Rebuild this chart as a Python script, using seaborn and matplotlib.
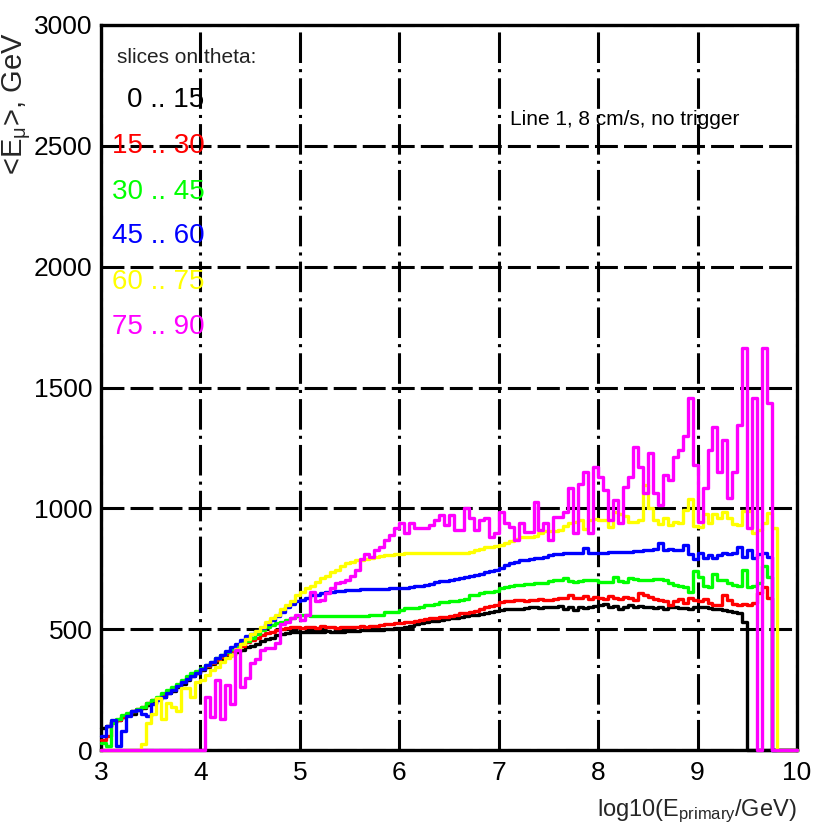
import numpy as np
import pandas as pd
import seaborn as sns
import matplotlib
matplotlib.use("Agg")
import matplotlib.pyplot as plt
from matplotlib.ticker import MultipleLocator

# bins of log10(E_primary/GeV): 3.0 .. 10.0, width 0.05
edges = np.round(np.linspace(3.0, 10.0, 141), 3)
centers = np.round((edges[:-1] + edges[1:]) / 2, 4)

slice_labels = ["0 .. 15", "15 .. 30", "30 .. 45", "45 .. 60", "60 .. 75", "75 .. 90"]
slice_colors = ["#000000", "#ff0000", "#00ff00", "#0000ff", "#ffff00", "#ff00ff"]

# <E_mu> per bin, GeV (one row = 0.5 in log10 E)
e_0_15 = [
    90, 100, 115, 125, 135, 145, 150, 165, 175, 185,
    195, 210, 220, 235, 245, 260, 275, 290, 305, 320,
    330, 345, 355, 365, 375, 385, 395, 405, 415, 425,
    430, 440, 450, 460, 465, 475, 480, 485, 488, 490,
    488, 490, 490, 488, 490, 492, 490, 488, 490, 492,
    492, 494, 495, 495, 496, 497, 498, 500, 502, 505,
    505, 510, 515, 520, 525, 530, 532, 535, 538, 542,
    545, 548, 552, 555, 558, 560, 563, 568, 572, 575,
    578, 582, 585, 585, 583, 588, 590, 592, 588, 590,
    593, 590, 595, 585, 590, 580, 592, 588, 590, 595,
    600, 605, 590, 595, 585, 592, 598, 590, 595, 590,
    592, 588, 590, 585, 592, 590, 588, 586, 585, 590,
    592, 590, 588, 585, 582, 578, 575, 572, 565, 530,
    0, 0, 0, 0, 0, 0, 0, 0, 0, 0,
]
e_15_30 = [
    40, 60, 115, 125, 135, 145, 160, 170, 180, 195,
    205, 215, 228, 240, 255, 270, 285, 300, 310, 322,
    335, 348, 360, 372, 385, 398, 410, 420, 432, 445,
    455, 465, 475, 485, 490, 495, 500, 505, 508, 510,
    505, 508, 510, 505, 512, 508, 510, 506, 510, 508,
    510, 508, 512, 510, 514, 515, 518, 520, 522, 524,
    526, 528, 530, 534, 540, 542, 545, 548, 550, 552,
    555, 560, 565, 568, 570, 575, 585, 592, 595, 600,
    612, 615, 618, 620, 622, 618, 620, 622, 625, 620,
    622, 625, 628, 630, 640, 628, 630, 638, 625, 632,
    628, 625, 638, 630, 625, 632, 628, 622, 650, 640,
    635, 625, 622, 615, 600, 618, 625, 610, 628, 622,
    618, 625, 610, 600, 598, 640, 620, 605, 600, 605,
    602, 610, 650, 675, 630, 0, 0, 0, 0, 0,
]
e_30_45 = [
    30, 15, 110, 130, 145, 152, 160, 170, 180, 195,
    205, 220, 235, 250, 262, 275, 290, 305, 318, 328,
    338, 350, 365, 380, 393, 405, 418, 430, 441, 452,
    465, 480, 495, 510, 518, 524, 530, 538, 548, 555,
    558, 558, 556, 555, 555, 556, 555, 555, 556, 555,
    555, 556, 555, 556, 558, 558, 560, 572, 572, 572,
    580, 587, 587, 587, 590, 598, 600, 605, 614, 614,
    616, 618, 620, 625, 641, 641, 650, 655, 655, 658,
    670, 675, 680, 683, 683, 685, 688, 690, 690, 692,
    698, 703, 705, 710, 700, 697, 700, 703, 703, 703,
    697, 697, 697, 715, 700, 697, 710, 708, 705, 705,
    705, 708, 706, 705, 690, 683, 678, 675, 655, 740,
    717, 680, 675, 730, 705, 703, 690, 683, 680, 745,
    676, 678, 690, 760, 717, 0, 0, 0, 0, 0,
]
e_45_60 = [
    60, 100, 125, 15, 80, 140, 160, 165, 150, 140,
    190, 205, 220, 235, 250, 265, 280, 295, 305, 318,
    335, 350, 365, 380, 395, 410, 425, 440, 455, 470,
    480, 492, 505, 520, 540, 555, 572, 590, 605, 615,
    620, 630, 640, 642, 650, 655, 655, 658, 660, 662,
    662, 664, 665, 666, 668, 668, 668, 668, 670, 670,
    670, 672, 675, 678, 680, 682, 688, 695, 698, 700,
    705, 708, 712, 716, 720, 725, 730, 736, 740, 745,
    755, 765, 772, 780, 786, 786, 790, 793, 795, 800,
    808, 810, 812, 814, 814, 814, 814, 835, 814, 814,
    814, 815, 818, 820, 821, 821, 821, 822, 825, 828,
    828, 830, 855, 828, 830, 826, 828, 850, 810, 790,
    814, 793, 807, 795, 808, 815, 810, 814, 840, 800,
    828, 793, 812, 814, 800, 0, 0, 0, 0, 0,
]
e_60_75 = [
    0, 0, 0, 0, 0, 0, 0, 0, 25, 110,
    150, 215, 130, 193, 180, 160, 256, 256, 220, 283,
    290, 310, 330, 345, 365, 380, 395, 420, 440, 460,
    478, 492, 510, 530, 545, 560, 585, 600, 615, 640,
    655, 670, 680, 695, 710, 720, 735, 745, 760, 772,
    780, 786, 786, 790, 795, 800, 802, 805, 807, 810,
    812, 814, 814, 814, 814, 814, 814, 814, 814, 814,
    814, 814, 814, 815, 820, 828, 830, 838, 841, 845,
    848, 855, 865, 875, 883, 880, 882, 885, 900, 905,
    908, 905, 912, 925, 940, 945, 952, 915, 950, 955,
    952, 950, 924, 985, 975, 970, 945, 945, 950, 1095,
    1000, 952, 935, 960, 930, 945, 938, 993, 1040, 925,
    924, 975, 940, 975, 960, 985, 960, 935, 931, 990,
    990, 900, 910, 940, 980, 917, 0, 0, 0, 0,
]
e_75_90 = [
    0, 0, 0, 0, 0, 0, 0, 0, 0, 0,
    0, 0, 0, 0, 0, 0, 0, 0, 0, 0,
    0, 220, 135, 290, 130, 270, 190, 414, 260, 300,
    360, 375, 414, 421, 421, 441, 520, 530, 545, 560,
    540, 560, 655, 617, 620, 648, 670, 690, 697, 705,
    720, 745, 790, 810, 800, 828, 841, 869, 890, 917,
    938, 896, 938, 917, 917, 917, 930, 950, 972, 930,
    972, 910, 910, 1000, 958, 910, 952, 960, 883, 900,
    986, 938, 924, 869, 938, 903, 903, 1028, 910, 938,
    869, 966, 966, 986, 1083, 900, 1100, 1152, 897, 1172,
    1131, 1076, 952, 1034, 938, 1090, 1131, 1255, 1172, 1062,
    1228, 1062, 1014, 1138, 1117, 1214, 1241, 1300, 1456, 1179,
    945, 1083, 1241, 1338, 1150, 1283, 1043, 1152, 1345, 1663,
    917, 1456, 0, 1663, 1435, 0, 0, 0, 0, 0,
]
series = [e_0_15, e_15_30, e_30_45, e_45_60, e_60_75, e_75_90]

df = pd.concat(
    [pd.DataFrame({"logE": centers, "E": vals, "theta": lab})
     for lab, vals in zip(slice_labels, series)],
    ignore_index=True,
)

sns.set_style("white")
plt.rcParams["font.family"] = ["Liberation Sans Narrow", "Liberation Sans", "DejaVu Sans"]
plt.rcParams["mathtext.fontset"] = "custom"
plt.rcParams["mathtext.rm"] = "Liberation Sans"
plt.rcParams["mathtext.it"] = "Liberation Sans"

fig = plt.figure(figsize=(8.18, 8.4), dpi=100)
ax = fig.add_axes([101 / 818, 90 / 840, 696 / 818, 725 / 840])

for lab, col in zip(slice_labels, slice_colors):
    sns.histplot(data=df[df["theta"] == lab], x="logE", weights="E", bins=list(edges),
                 element="step", fill=False, color=col, linewidth=2.4,
                 zorder=3, clip_on=False, ax=ax)

ax.set_xlim(3, 10)
ax.set_ylim(0, 3000)
ax.xaxis.set_major_locator(MultipleLocator(1))
ax.xaxis.set_minor_locator(MultipleLocator(0.2))
ax.yaxis.set_major_locator(MultipleLocator(500))
ax.yaxis.set_minor_locator(MultipleLocator(100))

ax.set_axisbelow(True)
ax.grid(axis="x", which="major", color="black", linewidth=2.2, linestyle=(0, (10, 2, 1, 2)))
ax.grid(axis="y", which="major", color="black", linewidth=2.2, linestyle=(0, (7.5, 2)))

ax.tick_params(which="both", direction="in", top=False, right=False,
               width=1.8, color="black", labelsize=19, labelcolor="black")
ax.tick_params(axis="x", which="major", length=16, pad=8)
ax.tick_params(axis="x", which="minor", length=9)
ax.tick_params(axis="y", which="major", length=12, pad=6)
ax.tick_params(axis="y", which="minor", length=6)
for sp in ax.spines.values():
    sp.set_linewidth(2.4)
    sp.set_color("black")
    sp.set_visible(True)

ax.set_xlabel(r"log10(E$_{\mathrm{primary}}$/GeV)", fontsize=17, loc="right")
ax.xaxis.set_label_coords(1.0, -0.066)
ax.set_ylabel(r"<E$_{\mu}$>, GeV", fontsize=21, loc="top")
ax.yaxis.set_label_coords(-0.097, 0.99)

ax.text(0.023, 0.9545, "slices on theta:", transform=ax.transAxes,
        fontsize=15, ha="left", va="center", color="#222222")
legend_y = [0.8966, 0.8331, 0.7697, 0.7090, 0.6455, 0.5834]
for lab, col, yy in zip(slice_labels, slice_colors, legend_y):
    ax.text(0.149, yy, lab, transform=ax.transAxes, fontsize=20,
            ha="right", va="center", color=col)

ax.text(0.5876, 0.8703, "Line 1, 8 cm/s, no trigger", transform=ax.transAxes,
        fontsize=15, ha="left", va="center", color="black")

fig.savefig("out.png", dpi=100)
